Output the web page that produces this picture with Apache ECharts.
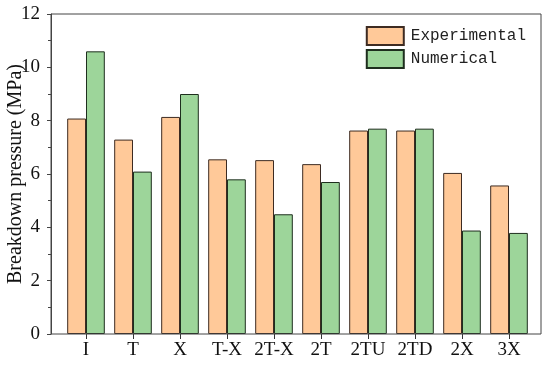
<!DOCTYPE html>
<html><head><meta charset="utf-8">
<script src="https://cdn.jsdelivr.net/npm/echarts@6/dist/echarts.min.js"></script>
<style>html,body{margin:0;padding:0;background:#fff}#c{width:550px;height:365px}</style>
</head><body><div id="c"></div>
<script>
const categories = ['I','T','X','T-X','2T-X','2T','2TU','2TD','2X','3X'];
const experimental = [8.08, 7.29, 8.14, 6.55, 6.52, 6.37, 7.63, 7.63, 6.04, 5.57];
const numerical = [10.6, 6.09, 9.0, 5.80, 4.49, 5.70, 7.70, 7.70, 3.88, 3.79];
const yTicks = [0, 2, 4, 6, 8, 10, 12];

const serif = 'Liberation Serif';
const chart = echarts.init(document.getElementById('c'), null, {renderer:'canvas'});
chart.setOption({
  animation: false,
  backgroundColor: '#fff',
  grid: [
    {left: 62.5, right: 17.5, top: 14, bottom: 31, containLabel: false, outerBoundsMode: 'none'},
    {left: 51, right: 9, top: 14, bottom: 31, containLabel: false, outerBoundsMode: 'none',
     show: true, borderColor: '#444', borderWidth: 1, backgroundColor: 'transparent', z: 3}
  ],
  legend: {
    orient: 'vertical', right: 19, top: 21, itemWidth: 37, itemHeight: 18, itemGap: 3,
    icon: 'rect',
    textStyle: {fontFamily: 'Liberation Mono', fontSize: 16, color: '#222', padding: [0,0,0,2]},
    data: ['Experimental','Numerical']
  },
  xAxis: [
    {type: 'category', gridIndex: 0, data: categories,
     axisLine: {show: false},
     axisTick: {show: true, alignWithLabel: true, length: 5, lineStyle: {color: '#333'}},
     axisLabel: {fontFamily: serif, fontSize: 19, color: '#111', margin: 7, interval: 0}},
    {type: 'value', gridIndex: 1, show: false, min: 0, max: 1}
  ],
  yAxis: [
    {type: 'value', gridIndex: 0, min: 0, max: 12, interval: 2, offset: 11.5,
     name: 'Breakdown pressure (MPa)', nameLocation: 'middle', nameGap: 25, nameMoveOverlap: false,
     nameTextStyle: {fontFamily: serif, fontSize: 20, color: '#111'},
     axisLine: {show: true, lineStyle: {color: '#444'}},
     axisTick: {show: true, length: 4, lineStyle: {color: '#444'}},
     minorTick: {show: true, splitNumber: 2, length: 3, lineStyle: {color: '#444'}},
     splitLine: {show: false},
     axisLabel: {fontFamily: serif, fontSize: 19, color: '#111', margin: 11,
       formatter: v => yTicks.includes(v) ? String(v) : ''}},
    {type: 'value', gridIndex: 1, show: false, min: 0, max: 1}
  ],
  series: [
    {name: 'Experimental', type: 'bar', data: experimental, barWidth: '40%', barGap: '0%',
     itemStyle: {color: '#FFC999', borderColor: '#3d2b22', borderWidth: 1}},
    {name: 'Numerical', type: 'bar', data: numerical, barWidth: '40%', barGap: '0%',
     itemStyle: {color: '#9DD59A', borderColor: '#1e2e1e', borderWidth: 1}}
  ]
});
</script></body></html>
